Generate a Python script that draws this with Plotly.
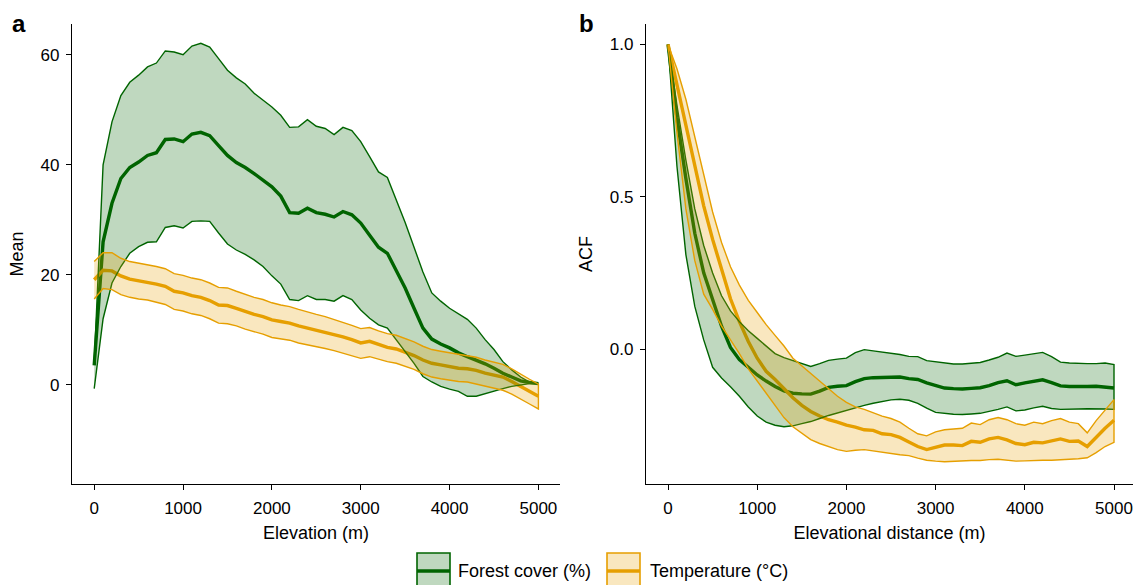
import plotly.graph_objects as go

# ---------------- data ----------------
elevation = list(range(0, 5001, 100))
lag = list(range(0, 5001, 100))

forest_mean = [3.5, 26, 33, 37.5, 39.5, 40.5, 41.7, 42.2, 44.6, 44.7, 44.2, 45.6, 45.9, 45.3, 43.5,
               41.7, 40.4, 39.5, 38.4, 37.2, 36.0, 34.3, 31.3, 31.2, 32.1, 31.3, 31.0, 30.5, 31.5,
               30.9, 29.4, 27.2, 25.0, 23.9, 20.8, 17.6, 13.9, 10.3, 8.3, 7.4, 6.7, 5.8, 5.1, 4.5,
               3.8, 3.0, 2.1, 1.4, 0.7, 0.4, 0.2]
forest_upper = [4.0, 40, 47.8, 52.6, 55, 56.3, 57.8, 58.5, 60.7, 60.5, 60.0, 61.6, 62.1, 61.4, 59.3,
                57.2, 55.8, 54.7, 53.0, 51.8, 50.5, 49.0, 46.8, 46.9, 48.2, 47.0, 46.6, 45.5, 46.8,
                46.2, 44.2, 41.5, 38.7, 37.7, 33.6, 29.5, 25.0, 20.5, 16.7, 15.2, 13.9, 12.9, 11.9,
                10.3, 8.2, 6.4, 4.2, 2.7, 1.4, 0.5, 0.2]
forest_lower = [-0.7, 12.0, 18.5, 21.5, 23.9, 25.1, 25.9, 26.0, 28.6, 28.9, 28.5, 29.7, 29.8, 29.7,
                27.6, 25.6, 24.5, 23.7, 22.7, 21.5, 19.8, 18.3, 15.5, 15.3, 16.2, 15.5, 15.5, 15.2,
                16.2, 15.5, 13.6, 12.1, 10.9, 10.3, 8.2, 6.1, 3.9, 1.5, 0.5, -0.3, -0.8, -1.2, -2.1,
                -2.1, -1.6, -1.2, -0.7, -0.3, 0.0, 0.2, 0.2]

temp_mean = [19.1, 20.8, 20.7, 19.8, 19.2, 18.9, 18.7, 18.3, 17.9, 17.0, 16.7, 16.2, 15.9, 15.3,
             14.5, 14.4, 13.9, 13.3, 12.8, 12.4, 11.8, 11.5, 11.2, 10.7, 10.3, 10.0, 9.6, 9.2, 8.7,
             8.2, 7.6, 7.9, 7.3, 6.8, 6.5, 5.9, 5.3, 4.5, 3.9, 3.6, 3.3, 3.0, 2.9, 2.6, 2.1, 1.8,
             1.4, 0.6, -0.3, -1.2, -2.1]
temp_upper = [22.4, 24.0, 24.0, 23.0, 22.4, 22.1, 21.9, 21.5, 21.1, 20.2, 19.9, 19.4, 19.1, 18.5,
              17.7, 17.6, 17.0, 16.4, 15.9, 15.5, 14.9, 14.5, 14.2, 13.7, 13.2, 12.8, 12.4, 11.9,
              11.4, 10.8, 10.2, 10.4, 9.8, 9.3, 9.0, 8.4, 7.8, 7.0, 6.4, 6.1, 5.8, 5.5, 5.3, 5.0,
              4.5, 4.1, 3.7, 2.9, 1.9, 1.0, 0.1]
temp_lower = [15.6, 17.5, 17.3, 16.4, 15.9, 15.6, 15.4, 15.0, 14.6, 13.7, 13.4, 12.9, 12.6, 12.0,
              11.2, 11.1, 10.7, 10.1, 9.6, 9.2, 8.6, 8.4, 8.1, 7.6, 7.2, 6.9, 6.6, 6.2, 5.7, 5.3,
              4.8, 5.1, 4.6, 4.2, 3.9, 3.4, 2.8, 2.0, 1.4, 1.1, 0.8, 0.6, 0.5, 0.2, -0.3, -0.6,
              -1.0, -1.7, -2.6, -3.5, -4.4]

forest_acf_mean = [1.0, 0.76, 0.56, 0.38, 0.25, 0.16, 0.075, 0.005, -0.035, -0.06, -0.085, -0.105,
                   -0.123, -0.137, -0.145, -0.147, -0.148, -0.138, -0.126, -0.122, -0.12, -0.107,
                   -0.097, -0.094, -0.093, -0.092, -0.092, -0.097, -0.1, -0.111, -0.12, -0.128,
                   -0.13, -0.131, -0.129, -0.127, -0.12, -0.11, -0.104, -0.117, -0.111, -0.105,
                   -0.101, -0.11, -0.121, -0.123, -0.124, -0.123, -0.122, -0.125, -0.128]
forest_acf_upper = [1.0, 0.80, 0.62, 0.46, 0.34, 0.25, 0.175, 0.125, 0.09, 0.06, 0.035, 0.01,
                    -0.015, -0.028, -0.038, -0.048, -0.057, -0.048, -0.037, -0.033, -0.03, -0.012,
                    -0.002, -0.006, -0.01, -0.013, -0.018, -0.024, -0.025, -0.038, -0.042, -0.045,
                    -0.049, -0.049, -0.046, -0.044, -0.036, -0.027, -0.013, -0.024, -0.02, -0.015,
                    -0.011, -0.025, -0.043, -0.046, -0.048, -0.048, -0.048, -0.046, -0.051]
forest_acf_lower = [1.0, 0.60, 0.31, 0.14, 0.03, -0.06, -0.095, -0.124, -0.155, -0.19, -0.22,
                    -0.24, -0.25, -0.255, -0.252, -0.245, -0.238, -0.228, -0.218, -0.21, -0.203,
                    -0.193, -0.185, -0.178, -0.172, -0.167, -0.165, -0.168, -0.178, -0.194, -0.208,
                    -0.212, -0.214, -0.215, -0.213, -0.211, -0.205, -0.198, -0.19, -0.203, -0.2,
                    -0.193, -0.188, -0.195, -0.198, -0.197, -0.197, -0.196, -0.196, -0.197, -0.198]

temp_acf_mean = [1.0, 0.87, 0.74, 0.61, 0.47, 0.36, 0.26, 0.165, 0.09, 0.025, -0.03, -0.073, -0.10,
                 -0.13, -0.16, -0.185, -0.205, -0.22, -0.232, -0.24, -0.25, -0.256, -0.265, -0.267,
                 -0.278, -0.281, -0.29, -0.305, -0.32, -0.33, -0.322, -0.315, -0.315, -0.317,
                 -0.303, -0.306, -0.295, -0.29, -0.298, -0.31, -0.314, -0.306, -0.308, -0.302,
                 -0.295, -0.303, -0.302, -0.32, -0.29, -0.26, -0.234]
temp_acf_upper = [1.0, 0.92, 0.82, 0.70, 0.57, 0.45, 0.35, 0.27, 0.21, 0.16, 0.12, 0.08, 0.045,
                  0.01, -0.03, -0.055, -0.08, -0.105, -0.13, -0.155, -0.175, -0.19, -0.198, -0.21,
                  -0.22, -0.228, -0.24, -0.26, -0.278, -0.285, -0.272, -0.265, -0.262, -0.26,
                  -0.243, -0.248, -0.232, -0.225, -0.232, -0.245, -0.25, -0.24, -0.245, -0.235,
                  -0.228, -0.24, -0.245, -0.275, -0.235, -0.2, -0.166]
temp_acf_lower = [1.0, 0.71, 0.46, 0.29, 0.18, 0.13, 0.075, 0.03, -0.015, -0.065, -0.105, -0.145,
                  -0.185, -0.225, -0.255, -0.275, -0.297, -0.31, -0.32, -0.33, -0.336, -0.332,
                  -0.33, -0.335, -0.34, -0.343, -0.347, -0.35, -0.358, -0.365, -0.368, -0.37,
                  -0.37, -0.368, -0.366, -0.366, -0.363, -0.362, -0.365, -0.368, -0.367, -0.365,
                  -0.365, -0.365, -0.363, -0.362, -0.36, -0.357, -0.34, -0.32, -0.306]

series_names = ["Forest cover (%)", "Temperature (°C)"]
x_ticks = [0, 1000, 2000, 3000, 4000, 5000]
mean_ticks = [0, 20, 40, 60]
acf_ticks = [0.0, 0.5, 1.0]

# ---------------- style ----------------
GREEN = "#006400"
GREEN_FILL = "rgba(0,100,0,0.25)"
ORANGE = "#E69F00"
ORANGE_FILL = "rgba(230,159,0,0.25)"
FONT = "Liberation Sans, Arial, Helvetica, sans-serif"
W, H = 1137, 585


def px(x):
    return x / W


def py(y):
    return 1 - y / H


fig = go.Figure()


def add_panel(xs, groups, xa, ya):
    # mean lines first, ribbons (semi-transparent) drawn on top, as in the reference
    for mean, up, lo, col, fillc, name in groups:
        fig.add_trace(go.Scatter(x=xs, y=mean, mode="lines", line=dict(color=col, width=3.4),
                                 xaxis=xa, yaxis=ya, showlegend=False, name=name))
    for mean, up, lo, col, fillc, name in groups:
        fig.add_trace(go.Scatter(x=list(xs) + list(xs)[::-1], y=list(up) + list(lo)[::-1],
                                 mode="lines", fill="toself", fillcolor=fillc,
                                 line=dict(color=col, width=1.4), xaxis=xa, yaxis=ya,
                                 showlegend=False, name=name, hoverinfo="skip"))


add_panel(elevation, [
    (forest_mean, forest_upper, forest_lower, GREEN, GREEN_FILL, series_names[0]),
    (temp_mean, temp_upper, temp_lower, ORANGE, ORANGE_FILL, series_names[1]),
], "x", "y")

add_panel(lag, [
    (forest_acf_mean, forest_acf_upper, forest_acf_lower, GREEN, GREEN_FILL, series_names[0]),
    (temp_acf_mean, temp_acf_upper, temp_acf_lower, ORANGE, ORANGE_FILL, series_names[1]),
], "x2", "y2")

axis_common = dict(showline=True, linecolor="black", linewidth=1.3, ticks="outside",
                   ticklen=5, tickwidth=1.1, tickcolor="black", showgrid=False, zeroline=False,
                   tickfont=dict(family=FONT, size=17, color="black"), automargin=False,
                   ticklabelstandoff=3)
ydom = [py(484), py(24)]

fig.update_layout(
    width=W, height=H,
    margin=dict(l=0, r=0, t=0, b=0),
    paper_bgcolor="white", plot_bgcolor="white",
    font=dict(family=FONT, size=17, color="black"),
    showlegend=False,
    xaxis=dict(domain=[px(72), px(560)], range=[-250, 5243], tickvals=x_ticks,
               title=dict(text="Elevation (m)", font=dict(size=18), standoff=9),
               anchor="y", **axis_common),
    yaxis=dict(domain=ydom, range=[-18.05, 65.6], tickvals=mean_ticks,
               title=dict(text="Mean", font=dict(size=18), standoff=12),
               anchor="x", **axis_common),
    xaxis2=dict(domain=[px(646), px(1133)], range=[-247, 5213], tickvals=x_ticks,
                title=dict(text="Elevational distance (m)", font=dict(size=18), standoff=9),
                anchor="y2", **axis_common),
    yaxis2=dict(domain=ydom, range=[-0.443, 1.067], tickvals=acf_ticks, tickformat=".1f",
                title=dict(text="ACF", font=dict(size=18), standoff=12),
                anchor="x2", **axis_common),
)

# panel labels
for lab, xp in [("a", 10), ("b", 577)]:
    fig.add_annotation(text="<b>%s</b>" % lab, x=px(xp), y=py(24), xref="paper", yref="paper",
                       xanchor="left", yanchor="middle", showarrow=False,
                       font=dict(family=FONT, size=24, color="black"))

# legend (ggplot-style keys)
legend_items = [(417, 456, GREEN, GREEN_FILL, series_names[0]),
                (607, 648, ORANGE, ORANGE_FILL, series_names[1])]
for x0, tx, col, fillc, name in legend_items:
    fig.add_shape(type="rect", xref="paper", yref="paper", x0=px(x0), x1=px(x0 + 33),
                  y0=py(589), y1=py(553), fillcolor=fillc, line=dict(color=col, width=1.6))
    fig.add_shape(type="line", xref="paper", yref="paper", x0=px(x0), x1=px(x0 + 33),
                  y0=py(571), y1=py(571), line=dict(color=col, width=3.4))
    fig.add_annotation(text=name, x=px(tx), y=py(571), xref="paper", yref="paper",
                       xanchor="left", yanchor="middle", showarrow=False,
                       font=dict(family=FONT, size=18, color="black"))

fig.write_html(
    "out.html",
    config={"displayModeBar": False},
    post_script="document.body.style.margin='0';document.body.style.overflow='hidden';",
)
